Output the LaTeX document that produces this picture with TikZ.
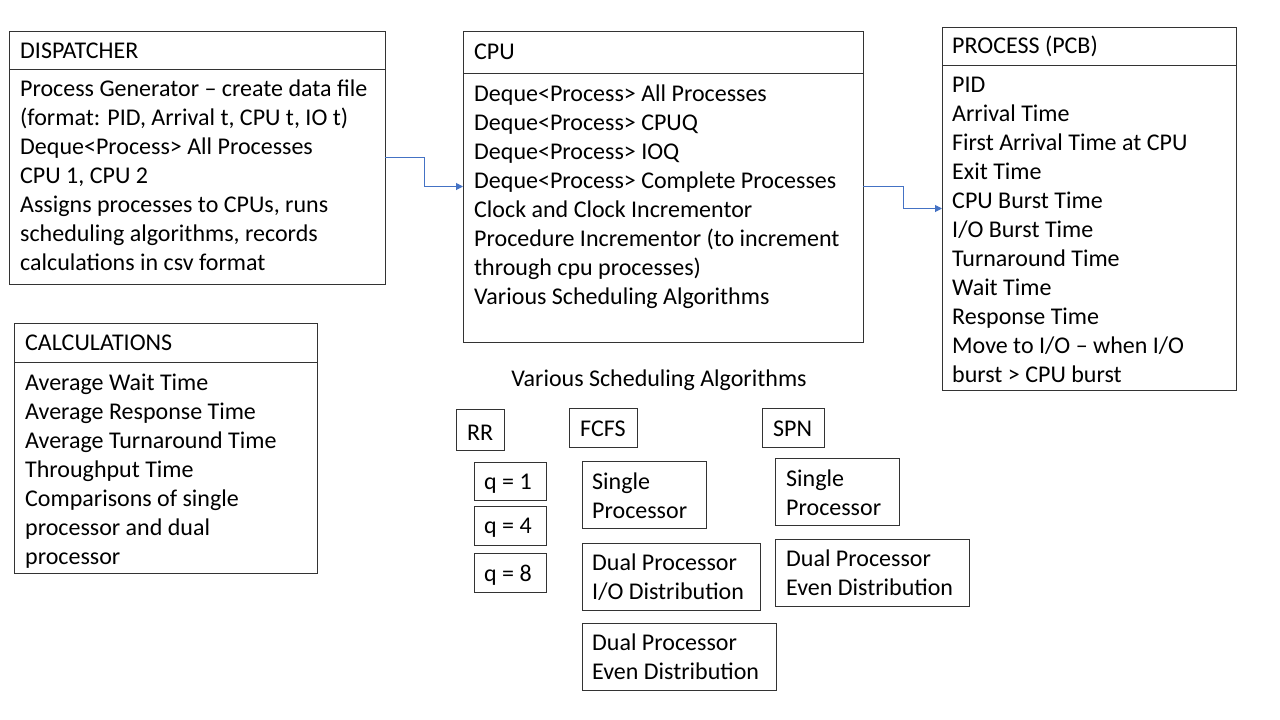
\documentclass[tikz,border=0pt]{standalone}
\usepackage{fontspec}
\setmainfont{Carlito}
\usetikzlibrary{arrows.meta}
\definecolor{connblue}{HTML}{4472C4}
\begin{document}
\begin{tikzpicture}[x=1pt,y=-1pt,
  box/.style={draw=black!80, line width=1pt, inner sep=0, outer sep=0, anchor=north west},
  sep/.style={draw=black!80, line width=1pt},
  txt/.style={anchor=base west, align=left, inner sep=0, font=\fontsize{24}{29}\selectfont},
  conn/.style={draw=connblue, line width=1pt, -{Triangle[length=7pt,width=7pt]}}]
\useasboundingbox[fill=white] (0,0) rectangle (1280,720);

% DISPATCHER
\node[box, minimum width=376, minimum height=253] (disp) at (9,31) {};
\draw[sep] (9,69) -- (385,69);
\node[txt] (dispH) at (20,58) {DISPATCHER};
\node[txt] (dispB) at (20,270) {Process Generator – create data file\\(format: PID, Arrival t, CPU t, IO t)\\Deque<Process> All Processes\\CPU 1, CPU 2\\Assigns processes to CPUs, runs\\scheduling algorithms, records\\calculations in csv format};

% CPU
\node[box, minimum width=400, minimum height=311] (cpu) at (463,31) {};
\draw[sep] (463,73) -- (863,73);
\node[txt] (cpuH) at (474,59) {CPU};
\node[txt] (cpuB) at (474,304) {Deque<Process> All Processes\\Deque<Process> CPUQ\\Deque<Process> IOQ\\Deque<Process> Complete Processes\\Clock and Clock Incrementor\\Procedure Incrementor (to increment\\through cpu processes)\\Various Scheduling Algorithms};

% PROCESS (PCB)
\node[box, minimum width=294, minimum height=363] (pcb) at (942,27) {};
\draw[sep] (942,65) -- (1236,65);
\node[txt] (pcbH) at (952,53) {PROCESS (PCB)};
\node[txt] (pcbB) at (952,382) {PID\\Arrival Time\\First Arrival Time at CPU\\Exit Time\\CPU Burst Time\\I/O Burst Time\\Turnaround Time\\Wait Time\\Response Time\\Move to I/O – when I/O\\burst > CPU burst};

% CALCULATIONS
\node[box, minimum width=303, minimum height=250] (calc) at (14,323) {};
\draw[sep] (14,362) -- (317,362);
\node[txt] (calcH) at (25,350) {CALCULATIONS};
\node[txt] (calcB) at (25,564) {Average Wait Time\\Average Response Time\\Average Turnaround Time\\Throughput Time\\Comparisons of single\\processor and dual\\processor};

% connectors
\draw[conn] (disp.east) -- ++(39,0) |- (cpu.west);
\draw[conn] (cpu.east) -- ++(40,0) |- (pcb.west);

% Scheduling algorithms
\node[txt, anchor=base] (vsa) at (659,386) {Various Scheduling Algorithms};

\node[box, minimum width=48, minimum height=41] (rr) at (456,409) {};
\node[txt] (rrT) at (467,440) {RR};
\node[box, minimum width=68, minimum height=39] (fcfs) at (569,408) {};
\node[txt] (fcfsT) at (580,436) {FCFS};
\node[box, minimum width=62, minimum height=39] (spn) at (762,408) {};
\node[txt] (spnT) at (773,436) {SPN};

\node[box, minimum width=72, minimum height=38] (q1) at (474,462) {};
\node[txt] (q1T) at (484,489) {q = 1};
\node[box, minimum width=72, minimum height=39] (q4) at (474,506) {};
\node[txt] (q4T) at (484,533) {q = 4};
\node[box, minimum width=72, minimum height=39] (q8) at (474,553) {};
\node[txt] (q8T) at (484,581) {q = 8};

\node[box, minimum width=124, minimum height=67] (fs) at (582,461) {};
\node[txt] (fsT) at (592,518) {Single\\Processor};
\node[box, minimum width=178, minimum height=67] (fdio) at (582,543) {};
\node[txt] (fdioT) at (592,599) {Dual Processor\\I/O Distribution};
\node[box, minimum width=194, minimum height=67] (fdev) at (582,623) {};
\node[txt] (fdevT) at (592,679) {Dual Processor\\Even Distribution};

\node[box, minimum width=124, minimum height=67] (ss) at (775,458) {};
\node[txt] (ssT) at (786,515) {Single\\Processor};
\node[box, minimum width=194, minimum height=67] (sdev) at (775,539) {};
\node[txt] (sdevT) at (786,595) {Dual Processor\\Even Distribution};
\end{tikzpicture}
\end{document}
